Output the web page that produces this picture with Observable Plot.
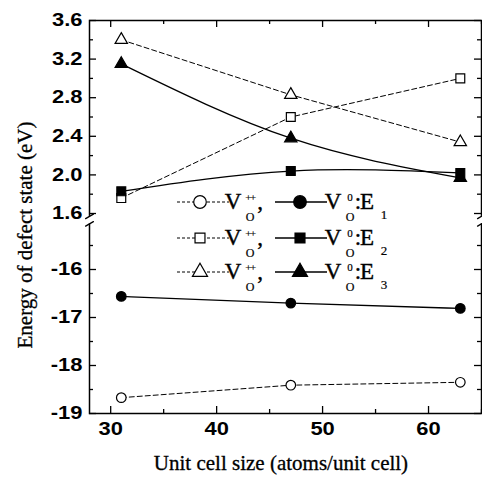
<!DOCTYPE html>
<html><head><meta charset="utf-8">
<script src="https://cdn.jsdelivr.net/npm/d3@7"></script>
<script src="https://cdn.jsdelivr.net/npm/@observablehq/plot@0.6"></script>
<style>body{margin:0;background:#fff}</style>
</head><body><div id="chart"></div>
<script>
// ---- data ----
const sizes = [31, 47, 63];
const vppE1 = [-18.67, -18.41, -18.35];
const v0E1  = [-16.56, -16.70, -16.81];
const vppE2 = [1.76, 2.60, 3.00];
const v0E2  = [1.83, 2.04, 2.02];
const vppE3 = [3.40, 2.83, 2.34];
const v0E3  = [3.15, 2.38, 1.97];
const levels = ["1", "2", "3"];
const symbolNames = ["circle", "square", "triangle"];
const yMajor = [-19, -18, -17, -16, 1.6, 2.0, 2.4, 2.8, 3.2, 3.6];
const yMinor = [-18.5, -17.5, -16.5, -15.5, 1.8, 2.2, 2.6, 3.0, 3.4];
const xMajor = [30, 40, 50, 60];
const xMinor = [35, 45, 55, 65];
const xDomain = [28, 65];
const yDomain = [-19, -15.05, 1.57, 3.6];
const xLabel = "Unit cell size (atoms/unit cell)";
const yLabel = "Energy of defect state (eV)";

// ---- table ----
const series = [
  {key: "vppE1", values: vppE1, symbol: "circle", filled: false},
  {key: "v0E1",  values: v0E1,  symbol: "circle", filled: true},
  {key: "vppE2", values: vppE2, symbol: "square", filled: false},
  {key: "v0E2",  values: v0E2,  symbol: "square", filled: true},
  {key: "vppE3", values: vppE3, symbol: "triangle", filled: false},
  {key: "v0E3",  values: v0E3,  symbol: "triangle", filled: true}
];
const rows = series.flatMap(s => s.values.map((v, i) => ({key: s.key, x: sizes[i], y: v, symbol: s.symbol, filled: s.filled})));

const W = 482, H = 479, mL = 89, mR = 1, mT = 20, mB = 66;
const pw = W - mL - mR, ph = H - mT - mB;
const bottomPx = 48, topPx = 96.5;
const yRange = [H - mB, H - mB - (yDomain[1] - yDomain[0]) * bottomPx, mT + (yDomain[3] - yDomain[2]) * topPx, mT];

const rSym = {circle: 4.8, square: 5.0, triangle: 4.6};
const fmt = d => d > 0 ? d.toFixed(1) : String(d);
const majLen = 7, minLen = 4;
const breakMarks = [];
for (const x of xDomain) for (const y of [yDomain[1], yDomain[2]]) breakMarks.push({x, y});
const slash = {draw(ctx, l) { ctx.moveTo(0, 0); ctx.lineTo(0, -l); }};

const plot = Plot.plot({
  width: W, height: H,
  marginLeft: mL, marginRight: mR, marginTop: mT, marginBottom: mB,
  style: {fontFamily: "Liberation Sans, Arial, sans-serif", fontSize: "18px", fontWeight: "bold", background: "white", color: "black", overflow: "visible"},
  x: {domain: xDomain, axis: null},
  y: {type: "linear", domain: yDomain, range: yRange, axis: null},
  marks: [
    Plot.frame({stroke: "black", strokeWidth: 1.5}),
    Plot.tickY(yMajor, {y: d => d, insetRight: pw - majLen, strokeWidth: 1.3}),
    Plot.tickY(yMinor, {y: d => d, insetRight: pw - minLen, strokeWidth: 1.3}),
    Plot.tickY(yMajor, {y: d => d, insetLeft: pw - majLen, strokeWidth: 1.3}),
    Plot.tickY(yMinor, {y: d => d, insetLeft: pw - minLen, strokeWidth: 1.3}),
    Plot.tickX(xMajor, {x: d => d, insetTop: ph - majLen, strokeWidth: 1.3}),
    Plot.tickX(xMinor, {x: d => d, insetTop: ph - minLen, strokeWidth: 1.3}),
    Plot.tickX(xMajor, {x: d => d, insetBottom: ph - majLen, strokeWidth: 1.3}),
    Plot.tickX(xMinor, {x: d => d, insetBottom: ph - minLen, strokeWidth: 1.3}),
    Plot.ruleX(xDomain, {x: d => d, y1: yDomain[1], y2: yDomain[2], stroke: "white", strokeWidth: 5}),
    Plot.vector(breakMarks, {x: "x", y: "y", length: 9, rotate: 60, anchor: "middle", shape: slash, stroke: "black", strokeWidth: 1.3}),
    Plot.axisY(yMajor, {tickSize: 0, tickPadding: 7, tickFormat: fmt, label: null}),
    Plot.axisX(xMajor, {tickSize: 0, tickPadding: 9, tickFormat: d => String(d), label: null}),
    Plot.line(rows, {filter: d => !d.filled, x: "x", y: "y", z: "key", stroke: "black", strokeWidth: 1, strokeDasharray: "5,3"}),
    Plot.line(rows, {filter: d => d.filled, x: "x", y: "y", z: "key", curve: "natural", stroke: "black", strokeWidth: 1.3}),
    ...symbolNames.map(s => Plot.dot(rows, {filter: d => d.symbol === s, x: "x", y: "y", symbol: s, r: rSym[s],
      fill: d => d.filled ? "black" : "white", stroke: "black", strokeWidth: 1.2}))
  ]
});

document.getElementById("chart").appendChild(plot);
const svg = d3.select(plot);
// widen tick labels like the scanned original (only Plot's own texts exist at this point)
svg.selectAll("text").each(function() {
  const len = this.getComputedTextLength();
  if (len > 0) { this.setAttribute("textLength", (len * 1.22).toFixed(1)); this.setAttribute("lengthAdjust", "spacingAndGlyphs"); }
});
const serif = "Liberation Serif, Times New Roman, serif";
svg.append("text").attr("transform", `translate(25,235) rotate(-90)`).attr("text-anchor", "middle").attr("dy", "0.35em")
  .attr("font-family", serif).attr("font-size", 21).attr("font-weight", "normal").attr("fill", "black")
  .attr("stroke", "black").attr("stroke-width", 0.3).text(yLabel);
svg.append("text").attr("x", 281).attr("y", 470).attr("text-anchor", "middle")
  .attr("font-family", serif).attr("font-size", 21).attr("font-weight", "normal").attr("fill", "black")
  .attr("stroke", "black").attr("stroke-width", 0.3).text(xLabel);

// legend
const legRowY = [202, 238, 272];
const lg = svg.append("g").attr("font-family", serif).attr("font-weight", "normal").attr("fill", "black");
const txt = (x, y, size, s) => lg.append("text").attr("x", x).attr("y", y).attr("font-size", size)
  .attr("fill", "black").attr("stroke", "black").attr("stroke-width", size > 15 ? 0.4 : 0.2).text(s);
levels.forEach((lev, i) => {
  const y = legRowY[i];
  const sym = d3.symbol().type({circle: d3.symbolCircle, square: d3.symbolSquare, triangle: d3.symbolTriangle}[symbolNames[i]])
    .size(Math.PI * Math.pow({circle: 6.3, square: 5.6, triangle: 5.6}[symbolNames[i]], 2));
  lg.append("line").attr("x1", 177).attr("x2", 229).attr("y1", y).attr("y2", y).attr("stroke", "black").attr("stroke-width", 1).attr("stroke-dasharray", "3,2");
  lg.append("path").attr("d", sym()).attr("transform", `translate(200,${y})`).attr("fill", "white").attr("stroke", "black").attr("stroke-width", 1.2);
  txt(233, y + 7, 23, "V");
  txt(250, y - 1, 11, "++").attr("letter-spacing", -1.5);
  txt(250, y + 19, 12, "O");
  txt(260, y + 7, 23, ",");
  lg.append("line").attr("x1", 275).attr("x2", 327).attr("y1", y).attr("y2", y).attr("stroke", "black").attr("stroke-width", 1.3);
  lg.append("path").attr("d", sym()).attr("transform", `translate(300,${y})`).attr("fill", "black").attr("stroke", "black").attr("stroke-width", 1.2);
  txt(333, y + 7, 23, "V");
  txt(350, y - 1, 11, "0");
  txt(350, y + 19, 12, "O");
  txt(358, y + 7, 23, ":");
  txt(367, y + 7, 23, "E");
  txt(384, y + 17, 13, lev);
});
</script>
</body></html>
